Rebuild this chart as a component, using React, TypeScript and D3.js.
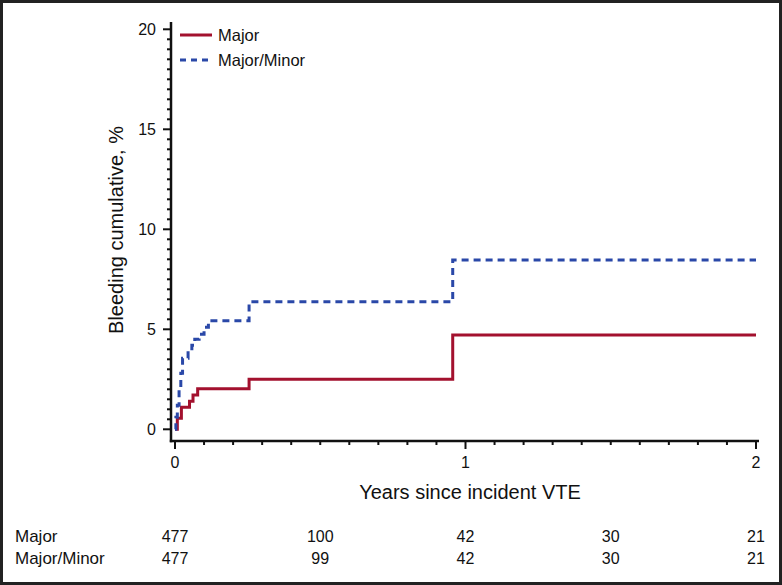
import React from "react";
import * as d3 from "d3";

const majorTimes = [0, 0.008, 0.022, 0.05, 0.062, 0.078, 0.255, 0.956, 2.0];
const majorValues = [0, 0.55, 1.1, 1.4, 1.72, 2.03, 2.5, 4.72, 4.72];

const minorTimes = [0, 0.003, 0.008, 0.014, 0.02, 0.026, 0.045, 0.058, 0.068, 0.083, 0.1, 0.115, 0.255, 0.956, 2.0];
const minorValues = [0, 0.6, 1.2, 2.0, 2.8, 3.55, 3.9, 4.2, 4.5, 4.75, 5.1, 5.43, 6.38, 8.47, 8.47];

const xTicks = [0, 1, 2];
const yTicks = [0, 5, 10, 15, 20];
const riskTimes = [0, 0.5, 1, 1.5, 2];
const riskMajor = [477, 100, 42, 30, 21];
const riskMajorMinor = [477, 99, 42, 30, 21];
const seriesNames = ["Major", "Major/Minor"];

const RED = "#a3112e";
const BLUE = "#2a48a8";
const FONT = "'Liberation Sans', Arial, Helvetica, sans-serif";

export default function App() {
  const W = 782, H = 585;
  const x = d3.scaleLinear().domain([0, 2]).range([175, 756]);
  const y = d3.scaleLinear().domain([0, 20]).range([429.3, 29.3]);
  const axisX = 171, axisY = 441;

  const line = d3
    .line<[number, number]>()
    .x((d) => x(d[0]))
    .y((d) => y(d[1]))
    .curve(d3.curveStepAfter);

  const majorPts: [number, number][] = majorTimes.map((t, i) => [t, majorValues[i]]);
  const minorPts: [number, number][] = minorTimes.map((t, i) => [t, minorValues[i]]);

  const xMinor = d3.range(0, 21).map((i) => i / 10);
  const yMinor = d3.range(0, 41).map((i) => i / 2);

  return (
    <svg width={W} height={H} style={{ position: "absolute", left: 0, top: 0 }} fontFamily={FONT}>
      <rect x={0} y={0} width={W} height={H} fill="#fff" />
      <rect x={1.5} y={1.5} width={W - 3} height={H - 3} fill="none" stroke="#222" strokeWidth={3} />

      {/* y axis */}
      <line x1={axisX} x2={axisX} y1={22} y2={axisY + 1.2} stroke="#111" strokeWidth={2.5} />
      {yMinor.map((v) => (
        <line key={"ym" + v} x1={axisX - (v % 5 === 0 ? 8 : 4)} x2={axisX} y1={y(v)} y2={y(v)} stroke="#111" strokeWidth={2} />
      ))}
      {yTicks.map((v) => (
        <text key={"yt" + v} x={156} y={y(v)} dy="0.36em" textAnchor="end" fontSize={16} fill="#111">
          {v}
        </text>
      ))}
      <text transform={`translate(123,230) rotate(-90)`} textAnchor="middle" fontSize={20} fill="#111">
        Bleeding cumulative, %
      </text>

      {/* x axis */}
      <line x1={axisX - 1.2} x2={759} y1={axisY} y2={axisY} stroke="#111" strokeWidth={2.5} />
      {xMinor.map((v) => (
        <line key={"xm" + v} x1={x(v)} x2={x(v)} y1={axisY} y2={axisY + (Math.abs(v - Math.round(v)) < 1e-9 ? 8 : 4)} stroke="#111" strokeWidth={2} />
      ))}
      {xTicks.map((v) => (
        <text key={"xt" + v} x={x(v)} y={468} textAnchor="middle" fontSize={16} fill="#111">
          {v}
        </text>
      ))}
      <text x={470} y={499} textAnchor="middle" fontSize={20} fill="#111">
        Years since incident VTE
      </text>

      {/* curves */}
      <path d={line(majorPts) || ""} fill="none" stroke={RED} strokeWidth={3} />
      <path d={line(minorPts) || ""} fill="none" stroke={BLUE} strokeWidth={3} strokeDasharray="7,5" />

      {/* legend */}
      <line x1={180} x2={212} y1={35} y2={35} stroke={RED} strokeWidth={3} />
      <text x={218} y={41} fontSize={16.5} fill="#111">{seriesNames[0]}</text>
      <line x1={180} x2={212} y1={60} y2={60} stroke={BLUE} strokeWidth={3} strokeDasharray="6,5" />
      <text x={218} y={66} fontSize={16.5} fill="#111">{seriesNames[1]}</text>

      {/* risk table */}
      <text x={15} y={541.5} fontSize={17} fill="#111">{seriesNames[0]}</text>
      <text x={15} y={564} fontSize={17} fill="#111">{seriesNames[1]}</text>
      {riskTimes.map((t, i) => (
        <text key={"r1" + t} x={x(t)} y={541.5} textAnchor="middle" fontSize={16} fill="#111">
          {riskMajor[i]}
        </text>
      ))}
      {riskTimes.map((t, i) => (
        <text key={"r2" + t} x={x(t)} y={564} textAnchor="middle" fontSize={16} fill="#111">
          {riskMajorMinor[i]}
        </text>
      ))}
    </svg>
  );
}
